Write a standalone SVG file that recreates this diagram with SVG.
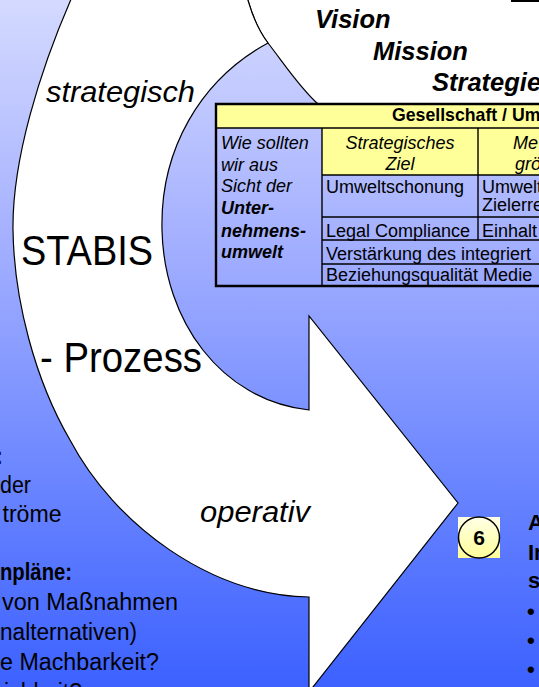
<svg xmlns="http://www.w3.org/2000/svg" width="539" height="687" viewBox="0 0 539 687">
<defs>
<linearGradient id="bg" x1="0" y1="0" x2="0" y2="1">
<stop offset="0" stop-color="#d4daff"/>
<stop offset="0.35" stop-color="#a4b0ff"/>
<stop offset="0.7" stop-color="#6a85ff"/>
<stop offset="1" stop-color="#3c61ff"/>
</linearGradient>
<linearGradient id="yel" x1="0" y1="0" x2="0" y2="1">
<stop offset="0" stop-color="#ffffe6"/>
<stop offset="1" stop-color="#ffff99"/>
</linearGradient>
</defs>
<style>
.shape{fill:#fff;stroke:#000;stroke-width:1.2;stroke-linejoin:miter}
.t{font-family:"Liberation Sans",Arial,sans-serif;fill:#000}
.cell{font-size:18px}
.side{font-size:23px}
.it{font-style:italic}
.b{font-weight:bold}
.grid{stroke:#000;stroke-width:1.4;fill:none}
</style>
<rect width="539" height="687" fill="url(#bg)"/>

<g id="top-shape">
<path d="M247,-3 C252,15 258,30 268,43 C285,65 300,88 318,104 L540,104 L540,-3 Z" fill="#fff"/>
<path d="M247,-3 C252,15 258,30 268,43 C285,65 300,88 318,104" fill="none" stroke="#000" stroke-width="1.2"/>
<rect x="511" y="0" width="28" height="2" fill="#000"/>
<text class="t b it" x="315" y="28" font-size="25.5">Vision</text>
<text class="t b it" x="373" y="60" font-size="25.5">Mission</text>
<text class="t b it" x="432" y="91" font-size="25.5">Strategie</text>
</g>

<g id="connectors">
<path id="cycle-arrow" class="shape" d="M72,-3 C40,70 12,160 13,230 C14,300 35,380 70,440 C115,525 210,595 309,597 L309,692 L458,503 L309,316 L309,410 C220,400 164,320 162,230 C160,150 200,80 268,43 C258,30 252,15 247,-3 Z"/>
</g>

<g id="arrow-labels">
<text class="t it" x="46" y="102" font-size="30" textLength="149" lengthAdjust="spacingAndGlyphs">strategisch</text>
<text class="t" x="21" y="265" font-size="42" textLength="132" lengthAdjust="spacingAndGlyphs">STABIS</text>
<text class="t" x="40" y="372" font-size="42" textLength="162" lengthAdjust="spacingAndGlyphs">- Prozess</text>
<text class="t it" x="200" y="522" font-size="30" textLength="110" lengthAdjust="spacingAndGlyphs">operativ</text>
</g>

<g id="table">
<rect x="216" y="104" width="330" height="24" fill="#ffff99"/>
<rect x="322" y="128" width="224" height="47" fill="#ffff99"/>
<line class="grid" x1="216" y1="128" x2="540" y2="128"/>
<line class="grid" x1="322" y1="128" x2="322" y2="286"/>
<line class="grid" x1="478" y1="128" x2="478" y2="240"/>
<line class="grid" x1="322" y1="175" x2="540" y2="175"/>
<line class="grid" x1="322" y1="217" x2="540" y2="217"/>
<line class="grid" x1="322" y1="240" x2="540" y2="240"/>
<line class="grid" x1="322" y1="264" x2="540" y2="264"/>
<path d="M542,104 H216 V286 H542" fill="none" stroke="#000" stroke-width="2.4"/>
<text class="t b" x="392" y="121" font-size="17.7">Gesellschaft / Um</text>
<text class="t it cell" x="400" y="149" text-anchor="middle">Strategisches</text>
<text class="t it cell" x="400" y="170" text-anchor="middle">Ziel</text>
<text class="t it cell" x="513" y="149">Me</text>
<text class="t it cell" x="515" y="170">grö</text>
<text class="t it cell" x="221" y="149">Wie sollten</text>
<text class="t it cell" x="221" y="171">wir aus</text>
<text class="t it cell" x="221" y="192">Sicht der</text>
<text class="t it b cell" x="221" y="214">Unter-</text>
<text class="t it b cell" x="221" y="237">nehmens-</text>
<text class="t it b cell" x="221" y="258">umwelt</text>
<text class="t cell" x="326" y="193">Umweltschonung</text>
<text class="t cell" x="482" y="193">Umwelt</text>
<text class="t cell" x="482" y="211">Zielerre</text>
<text class="t cell" x="326" y="237">Legal Compliance</text>
<text class="t cell" x="482" y="237">Einhalt</text>
<text class="t cell" x="326" y="260">Verstärkung des integriert</text>
<text class="t cell" x="326" y="281">Beziehungsqualität Medie</text>
</g>

<g id="left-text">
<text class="t b side" x="3" y="464" text-anchor="end">:</text>
<text class="t side" x="0" y="493" textLength="31" lengthAdjust="spacingAndGlyphs">der</text>
<text class="t side" x="2.5" y="522" textLength="59" lengthAdjust="spacingAndGlyphs">tröme</text>
<text class="t b side" x="0" y="580" textLength="72" lengthAdjust="spacingAndGlyphs">npläne:</text>
<text class="t side" x="2" y="610" textLength="176" lengthAdjust="spacingAndGlyphs">von Maßnahmen</text>
<text class="t side" x="0" y="640" textLength="137" lengthAdjust="spacingAndGlyphs">nalternativen)</text>
<text class="t side" x="0" y="670" textLength="159" lengthAdjust="spacingAndGlyphs">e Machbarkeit?</text>
<text class="t side" x="82" y="700" text-anchor="end">ichkeit?</text>
</g>

<g id="badge-6">
<rect x="458" y="517" width="42" height="41" fill="url(#yel)"/>
<circle cx="479" cy="537.5" r="20.5" fill="url(#yel)" stroke="#000" stroke-width="1.5"/>
<text class="t b" x="479" y="545" font-size="21" text-anchor="middle">6</text>
</g>

<g id="right-text">
<text class="t b" x="528" y="530" font-size="22">A</text>
<text class="t b" x="528" y="560" font-size="22">In</text>
<text class="t b" x="528" y="588" font-size="22">s</text>
<text class="t b" x="527" y="619" font-size="22">•</text>
<text class="t b" x="527" y="648" font-size="22">•</text>
<text class="t b" x="527" y="677" font-size="22">•</text>
</g>
</svg>
